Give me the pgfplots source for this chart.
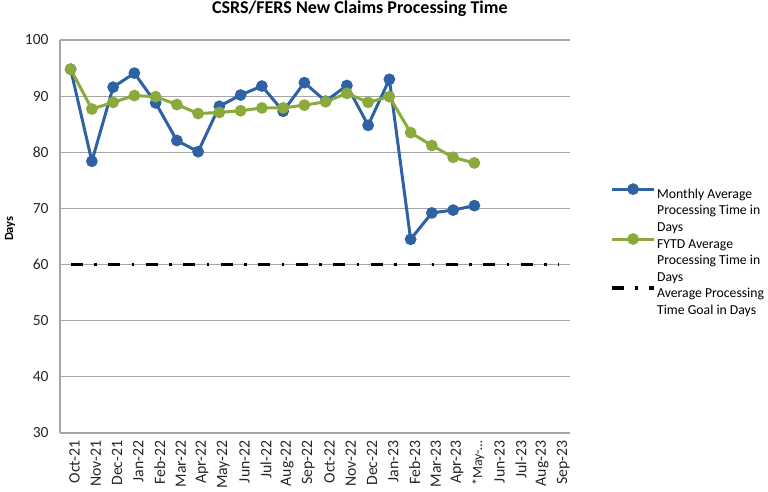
\documentclass[border=0pt]{standalone}
\usepackage{fontspec}
\setmainfont{Carlito}
\usepackage{pgfplots}
\pgfplotsset{compat=1.18}
\definecolor{cblue}{HTML}{2E62A4}
\definecolor{cgreen}{HTML}{8AAA3C}
\definecolor{cgrid}{HTML}{A6A6A6}

\begin{document}
\begin{tikzpicture}[x=1pt,y=1pt]
\useasboundingbox (0,0) rectangle (768,492);
\begin{axis}[
    at={(60pt,59pt)}, anchor=south west,
    scale only axis, width=510pt, height=393pt,
    xmin=-0.5, xmax=23.5, ymin=30, ymax=100,
    xtick={0,...,23},
    xticklabels={Oct-21,Nov-21,Dec-21,Jan-22,Feb-22,Mar-22,Apr-22,May-22,
        Jun-22,Jul-22,Aug-22,Sep-22,Oct-22,Nov-22,Dec-22,Jan-23,Feb-23,
        Mar-23,Apr-23,{\fontsize{14}{16}\selectfont *May-…},Jun-23,Jul-23,Aug-23,Sep-23},
    ytick={30,40,...,100},
    ymajorgrids, grid style={cgrid, line width=1.1pt},
    axis lines*=left, axis line style={draw=cgrid, line width=1.1pt, -},
    major tick length=0pt,
    /pgf/number format/assume math mode=true,
    tick label style={font=\fontsize{15.5}{18}\selectfont, text=black!85},
    xticklabel style={rotate=90, anchor=east, yshift=-4pt, xshift=-4pt,
        font=\fontsize{15.8}{19}\selectfont},
    yticklabel style={xshift=-8pt},
    ylabel={\textbf{Days}},
    ylabel style={at={(axis description cs:-0.098,0.52)}, anchor=center,
        font=\fontsize{12.5}{15}\selectfont},
    title={\textbf{CSRS/FERS New Claims Processing Time}},
    title style={at={(axis description cs:0.588,1)}, anchor=base, yshift=20.7pt,
        font=\fontsize{18}{21}\selectfont},
    legend style={at={(axis description cs:1.078,0.632)}, anchor=north west,
        draw=none, fill=none, font=\fontsize{13.7}{16.7}\selectfont,
        nodes={inner sep=1pt}, inner sep=0pt, row sep=34pt},
    legend cell align=left,
    legend image code/.code={
        \draw[mark repeat=2, mark phase=2, yshift=4pt, #1]
            plot coordinates {(0cm,0cm) (0.75cm,0cm) (1.5cm,0cm)};
    },
]
\addplot[color=cblue, line width=3pt, mark=*, mark size=4.3pt,
    mark options={solid}] coordinates {
    (0,94.8) (1,78.4) (2,91.6) (3,94.1) (4,88.8) (5,82.1) (6,80.1)
    (7,88.2) (8,90.2) (9,91.8) (10,87.3) (11,92.4) (12,89.1) (13,91.9)
    (14,84.8) (15,93.0) (16,64.5) (17,69.2) (18,69.7) (19,70.5)
};
\addlegendentry{\begin{tabular}[t]{@{}l@{}}Monthly Average\\Processing Time in\\Days\end{tabular}}
\addplot[color=cgreen, line width=3pt, mark=*, mark size=4.3pt,
    mark options={solid}] coordinates {
    (0,94.8) (1,87.7) (2,88.9) (3,90.1) (4,89.9) (5,88.5) (6,86.9)
    (7,87.1) (8,87.4) (9,87.9) (10,87.9) (11,88.4) (12,89.0) (13,90.5)
    (14,88.9) (15,89.9) (16,83.5) (17,81.2) (18,79.1) (19,78.1)
};
\addlegendentry{\begin{tabular}[t]{@{}l@{}}FYTD Average\\Processing Time in\\Days\end{tabular}}
\addplot[color=black, line width=3.5pt,
    dash pattern=on 12pt off 11.5pt on 2.5pt off 11.5pt] coordinates {
    (0,60) (1,60) (2,60) (3,60) (4,60) (5,60) (6,60) (7,60) (8,60) (9,60)
    (10,60) (11,60) (12,60) (13,60) (14,60) (15,60) (16,60) (17,60)
    (18,60) (19,60) (20,60) (21,60) (22,60) (23,60)
};
\addlegendentry{\begin{tabular}[t]{@{}l@{}}Average Processing\\Time Goal in Days\end{tabular}}
\end{axis}
\end{tikzpicture}
\end{document}
